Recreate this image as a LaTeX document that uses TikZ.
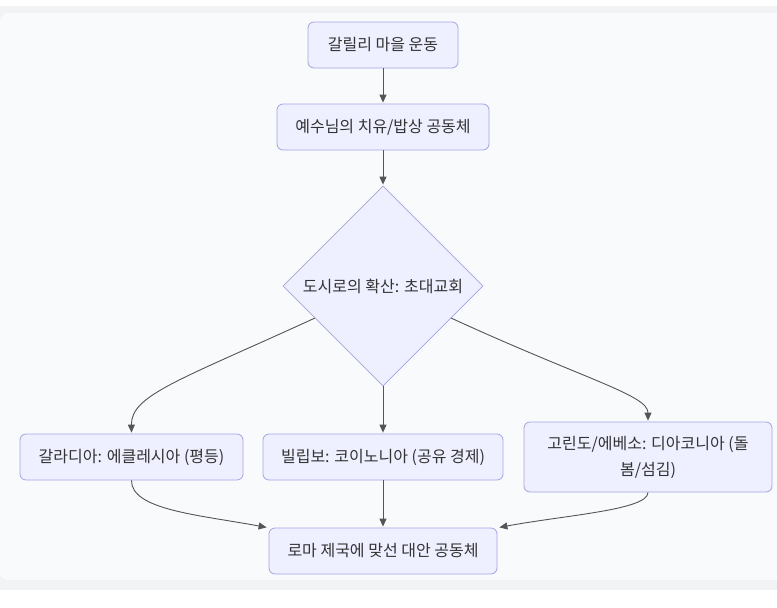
\documentclass[tikz,border=0pt]{standalone}
\usepackage{fontspec}
\newfontfamily\kr{Noto Sans CJK KR}
\usetikzlibrary{shapes.geometric,arrows.meta,calc}
\definecolor{bandcol}{HTML}{F2F3F5}
\definecolor{bgcol}{HTML}{F9FAFC}
\definecolor{boxfill}{HTML}{EEF0FF}
\definecolor{boxstroke}{HTML}{A3A3E8}
\definecolor{txtcol}{HTML}{333333}
\definecolor{edgecol}{HTML}{555555}
\tikzset{
  basenode/.style={draw=boxstroke, fill=boxfill, line width=0.8pt, text=txtcol,
    font=\kr\fontsize{16}{26}\selectfont, inner sep=0pt},
  box/.style={basenode, rounded corners=6pt, minimum height=46pt, align=center},
  dia/.style={basenode, diamond, minimum width=200pt, minimum height=200pt},
  edge/.style={draw=edgecol, line width=0.9pt, -{Triangle[length=8pt,width=7pt]}, shorten >=1pt}
}
\begin{document}
\begin{tikzpicture}[x=1pt,y=-1pt]
\useasboundingbox (0,0) rectangle (777,608);
\fill[bandcol] (-10,6) rectangle (787,590);
\fill[bgcol, rounded corners=8pt] (0,13) rectangle (790,580);
\node[box, minimum width=150pt] (a) at (383,45) {갈릴리 마을 운동};
\node[box, minimum width=212pt] (b) at (383,127) {예수님의 치유/밥상 공동체};
\node[dia] (c) at (383,286) {도시로의 확산: 초대교회};
\node[box, minimum width=223pt] (l) at (131.5,457) {갈라디아: 에클레시아 (평등)};
\node[box, minimum width=240pt] (m) at (383,457) {빌립보: 코이노니아 (공유 경제)};
\node[box, minimum width=248pt, minimum height=70pt] (r) at (648,457) {고린도/에베소: 디아코니아 (돌\\봄/섬김)};
\node[box, minimum width=228pt] (e) at (383,551) {로마 제국에 맞선 대안 공동체};
\coordinate (cl) at ($(c.west)!0.32!(c.south)$);
\coordinate (cr) at ($(c.east)!0.32!(c.south)$);
\coordinate (etl) at ($(e.north west)+(-1,0)$);
\coordinate (etr) at ($(e.north east)+(1,0)$);
\draw[edge] (a) -- (b);
\draw[edge] (b) -- (c);
\draw[edge] (c) -- (m);
\draw[edge] (cl) .. controls (180,380) and (131,395) .. (l.north);
\draw[edge] (cr) .. controls (586,380) and (648,395) .. (r.north);
\draw[edge] (m) -- (e);
\draw[edge] (l.south) .. controls (131,510) and (200,515) .. (etl);
\draw[edge] (r.south) .. controls (648,510) and (566,515) .. (etr);
\end{tikzpicture}
\end{document}
